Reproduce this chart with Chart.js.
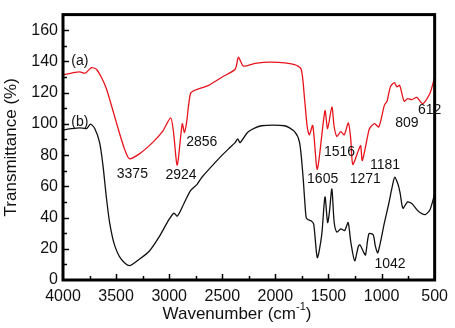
<!DOCTYPE html>
<html>
<head>
<meta charset="utf-8">
<script src="https://cdn.jsdelivr.net/npm/chart.js@4/dist/chart.umd.min.js"></script>
<style>
  body { margin: 0; background: #fff; }
  #wrap { width: 455px; height: 328px; }
</style>
</head>
<body>
<div id="wrap"><canvas id="ftir" width="455" height="328"></canvas></div>
<script>
// ── Data ─────────────────────────────────────────────────
const waveA = [4000, 3920, 3841, 3790, 3732, 3686, 3640, 3592, 3530, 3468, 3421, 3375, 3281, 3157, 3064, 2986, 2960, 2924, 2877, 2856, 2836, 2799, 2752, 2628, 2504, 2379, 2348, 2301, 2192, 2037, 1819, 1757, 1726, 1700, 1680, 1648, 1605, 1533, 1508, 1468, 1446, 1421, 1384, 1352, 1312, 1290, 1271, 1219, 1197, 1181, 1119, 1103, 1066, 1026, 973, 948, 917, 880, 855, 830, 787, 755, 715, 668, 612, 544, 500];
const transA = [131.3, 132.5, 133.3, 132.5, 136, 135, 130, 122.7, 108.6, 94, 84, 77.7, 80.8, 88, 95, 103.9, 95, 73.6, 100, 94.5, 101, 119.6, 121.7, 124.7, 129.9, 135, 142.7, 137, 138.7, 139.5, 138, 135, 116.6, 98, 93, 99, 71, 108.4, 97, 110.8, 98, 92, 95, 93, 100.6, 90, 74, 82.8, 86, 76.5, 96, 98, 100.2, 98, 112, 114.5, 123.7, 126.4, 123.7, 124.7, 114.5, 116.2, 115.6, 117, 113, 119.6, 130];

const waveB = [4000, 3920, 3841, 3779, 3741, 3701, 3655, 3624, 3592, 3561, 3515, 3452, 3375, 3281, 3188, 3095, 3001, 2955, 2924, 2861, 2799, 2737, 2690, 2504, 2441, 2379, 2354, 2332, 2255, 2131, 1913, 1819, 1772, 1741, 1726, 1710, 1695, 1664, 1639, 1605, 1564, 1533, 1508, 1492, 1468, 1446, 1421, 1384, 1347, 1315, 1290, 1253, 1219, 1203, 1166, 1151, 1119, 1079, 1058, 1035, 973, 932, 901, 876, 845, 824, 799, 755, 715, 653, 590, 544, 500];
const transB = [96.1, 97, 97.5, 97, 99.8, 97, 88, 73.6, 53.2, 36.8, 22.5, 13.3, 9.2, 13.3, 18.4, 27.6, 38.8, 42.9, 40.9, 49, 57.2, 61.3, 66, 79.8, 84, 88, 90.4, 88, 95, 98.8, 98.8, 95, 88, 67.5, 53.2, 39.9, 38.8, 37.9, 35.8, 14.3, 28.6, 53.2, 36.8, 42.9, 58.3, 36.8, 30.7, 32.7, 31.7, 36.8, 24.5, 12.3, 21.5, 22.5, 17.4, 16, 29.6, 29, 21.5, 17.4, 36.8, 49, 59.3, 65.8, 61.3, 55.2, 46, 50, 49, 44, 41.9, 45, 55.2];

// peak labels: text, wavenumber, transmittance where the text sits
const peakText = ['(a)', '(b)', '3375', '2924', '2856', '1605', '1516', '1271', '1181', '809', '612', '1042'];
const peakWave = [3841, 3841, 3347, 2889, 2693, 1555, 1396, 1153, 967, 761, 547, 920];
const peakT    = [140, 101, 68, 67, 88, 64.5, 81.6, 64.5, 73.6, 100.6, 108.6, 10.4];

const FONT = "'Liberation Sans', Arial, sans-serif";

function toPoints(xs, ys) {
  return xs.map((x, i) => ({ x, y: ys[i] }));
}

// frame, inward ticks, peak labels, axis titles
const decor = {
  id: 'decor',
  afterDraw(chart) {
    const { ctx, chartArea: a, scales: { x, y } } = chart;
    ctx.save();
    ctx.strokeStyle = '#000';
    ctx.lineWidth = 1.5;
    y.ticks.forEach(t => {
      if (t.value <= 0 || t.value >= 170) return;
      const py = Math.round(y.getPixelForValue(t.value)) + 0.5;
      const len = t.value % 20 === 0 ? 6 : 4;
      ctx.beginPath(); ctx.moveTo(a.left, py); ctx.lineTo(a.left + len, py); ctx.stroke();
    });
    x.ticks.forEach(t => {
      if (t.value <= 500 || t.value >= 4000) return;
      const px = Math.round(x.getPixelForValue(t.value)) + 0.5;
      const len = t.value % 500 === 0 ? 6 : 4;
      ctx.beginPath(); ctx.moveTo(px, a.bottom); ctx.lineTo(px, a.bottom - len); ctx.stroke();
    });
    ctx.lineWidth = 3;
    ctx.strokeRect(a.left, a.top, a.right - a.left, a.bottom - a.top);

    ctx.fillStyle = '#111';
    ctx.font = `14px ${FONT}`;
    ctx.textAlign = 'center';
    ctx.textBaseline = 'middle';
    peakText.forEach((s, i) => {
      ctx.fillText(s, x.getPixelForValue(peakWave[i]), y.getPixelForValue(peakT[i]));
    });

    // x title with superscript
    const main = 'Wavenumber (cm', sup = '-1', tail = ')';
    ctx.font = `17px ${FONT}`;
    const wMain = ctx.measureText(main).width, wTail = ctx.measureText(tail).width;
    ctx.font = `11px ${FONT}`;
    const wSup = ctx.measureText(sup).width;
    const sx = 237 - (wMain + wSup + wTail) / 2;
    const ty = 314;
    ctx.textAlign = 'left';
    ctx.font = `17px ${FONT}`;
    ctx.fillText(main, sx, ty);
    ctx.font = `11px ${FONT}`;
    ctx.fillText(sup, sx + wMain, ty - 7);
    ctx.font = `17px ${FONT}`;
    ctx.fillText(tail, sx + wMain + wSup, ty);

    // y title
    ctx.translate(11, (a.top + a.bottom) / 2);
    ctx.rotate(-Math.PI / 2);
    ctx.textAlign = 'center';
    ctx.fillText('Transmittance (%)', 0, 0);
    ctx.restore();
  },
};

new Chart(document.getElementById('ftir'), {
  type: 'line',
  data: {
    datasets: [
      {
        label: '(a)',
        data: toPoints(waveA, transA),
        borderColor: '#e8141c',
        borderWidth: 1.3,
        pointRadius: 0,
        tension: 0.25,
        fill: false,
      },
      {
        label: '(b)',
        data: toPoints(waveB, transB),
        borderColor: '#111',
        borderWidth: 1.3,
        pointRadius: 0,
        tension: 0.25,
        fill: false,
      },
    ],
  },
  options: {
    responsive: false,
    devicePixelRatio: 1,
    animation: false,
    layout: { padding: { top: 3, right: 16, left: 0, bottom: 0 } },
    plugins: { legend: { display: false }, tooltip: { enabled: false } },
    scales: {
      x: {
        type: 'linear',
        reverse: true,
        min: 500,
        max: 4000,
        grid: { display: false, drawTicks: false },
        border: { display: false },
        afterFit: s => { s.height = 48; },
        ticks: {
          stepSize: 250,
          autoSkip: false,
          maxRotation: 0,
          padding: 7,
          color: '#111',
          font: { family: FONT, size: 16 },
          callback: v => (v % 500 === 0 ? String(v) : ''),
        },
      },
      y: {
        min: 0,
        max: 170,
        grid: { display: false, drawTicks: false },
        border: { display: false },
        afterFit: s => { s.width = 63; },
        ticks: {
          stepSize: 10,
          autoSkip: false,
          padding: 5,
          color: '#111',
          font: { family: FONT, size: 16 },
          callback: v => (v % 20 === 0 && v <= 160 ? String(v) : ''),
        },
      },
    },
  },
  plugins: [decor],
});
</script>
</body>
</html>
